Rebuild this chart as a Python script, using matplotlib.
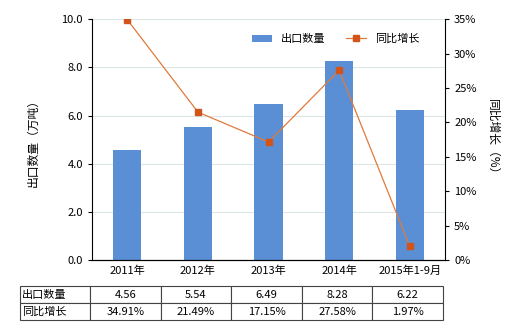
import matplotlib
matplotlib.use("Agg")
import matplotlib.pyplot as plt
import numpy as np

plt.rcParams['font.family'] = ['Noto Sans CJK SC', 'DejaVu Sans']

categories = ["2011年", "2012年", "2013年", "2014年", "2015年1-9月"]
export_qty = [4.56, 5.54, 6.49, 8.28, 6.22]
yoy_growth = [34.91, 21.49, 17.15, 27.58, 1.97]

bar_color = "#5a8fd6"
line_color = "#d2541a"

fig = plt.figure(figsize=(5.2, 3.3), dpi=100, facecolor="white")
ax1 = fig.add_axes([0.177, 0.212, 0.679, 0.730])
x = np.arange(len(categories))

ax1.bar(x, export_qty, width=0.4, color=bar_color, label="出口数量", zorder=2)
ax1.set_ylim(0, 10)
ax1.set_xlim(-0.5, len(categories) - 0.5)
ax1.set_yticks(np.arange(0, 10.1, 2))
ax1.set_yticklabels([f"{v:.1f}" for v in np.arange(0, 10.1, 2)], fontsize=8)
ax1.set_xticks(x)
ax1.set_xticklabels(categories, fontsize=8)
ax1.tick_params(axis="x", length=0, pad=4)
ax1.tick_params(axis="y", length=3)
ax1.grid(axis="y", color="#dde6e6", linewidth=0.8, zorder=0)
ax1.set_ylabel("出口数量（万吨）", fontsize=8.5, labelpad=16)
for s in ["top", "right"]:
    ax1.spines[s].set_visible(False)

ax2 = ax1.twinx()
ax2.plot(x, yoy_growth, color="#e07a3a", linewidth=0.9, marker="s", markersize=4,
         markerfacecolor=line_color, markeredgecolor=line_color, label="同比增长", zorder=3)
ax2.set_ylim(0, 35)
ax2.set_yticks(np.arange(0, 36, 5))
ax2.set_yticklabels([f"{v}%" for v in range(0, 36, 5)], fontsize=8)
ax2.tick_params(axis="y", length=3)
ax2.set_ylabel("同比增长（%）", fontsize=8.5, rotation=-90, labelpad=16)
for s in ["top", "left"]:
    ax2.spines[s].set_visible(False)

h1, l1 = ax1.get_legend_handles_labels()
h2, l2 = ax2.get_legend_handles_labels()
ax2.legend(h1 + h2, l1 + l2, loc="upper right", bbox_to_anchor=(0.955, 0.98), ncol=2,
           frameon=False, fontsize=8, handlelength=1.8, columnspacing=1.8)

# data table under the chart
cell_text = [["出口数量"] + [f"{v:.2f}" for v in export_qty],
             ["同比增长"] + [f"{v:.2f}%" for v in yoy_growth]]
tbl = ax1.table(cellText=cell_text, cellLoc="center",
                bbox=[-0.204, -0.249, 1.198, 0.141],
                colWidths=[70] + [70.6] * 5)
tbl.auto_set_font_size(False)
tbl.set_fontsize(8)
for (r, c), cell in tbl.get_celld().items():
    cell.set_edgecolor("#444444")
    cell.set_linewidth(0.8)
    if c == 0:
        cell.set_text_props(ha="left")
        cell.PAD = 0.03

fig.savefig("out.png", dpi=100, facecolor="white")
